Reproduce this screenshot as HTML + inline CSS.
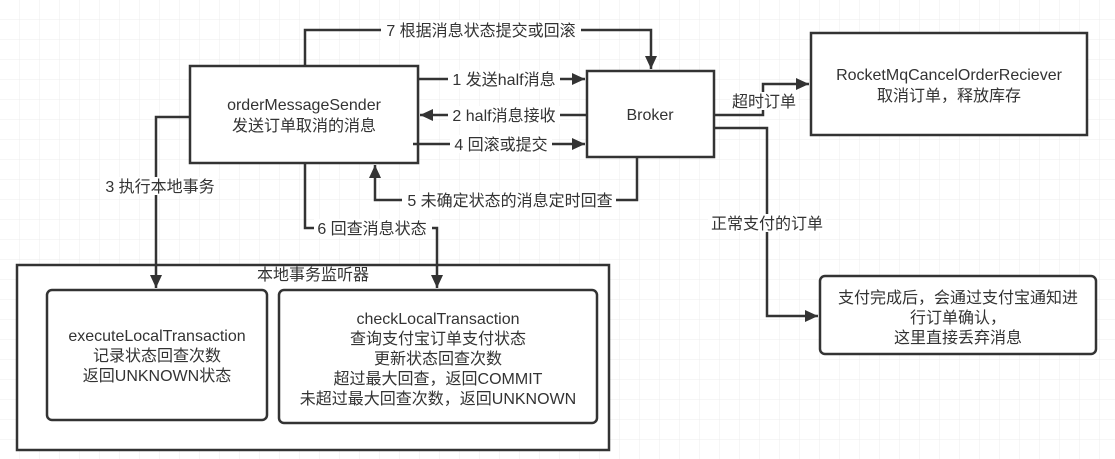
<!DOCTYPE html>
<html><head><meta charset="utf-8"><style>
html,body{margin:0;padding:0;background:#fff;}
svg{display:block;}
text{font-family:"Liberation Sans","Noto Sans CJK SC",sans-serif;font-size:16px;fill:#333;}
</style></head><body>
<svg width="1115" height="459" viewBox="0 0 1115 459" xmlns="http://www.w3.org/2000/svg">
<defs>
<pattern id="g" width="20" height="20" patternUnits="userSpaceOnUse">
<path d="M20 0V20M0 20H20" fill="none" stroke="#ececec" stroke-width="1"/>
</pattern>
<marker id="a" markerWidth="14" markerHeight="14" refX="13" refY="6" orient="auto" markerUnits="userSpaceOnUse">
<path d="M0,0 L13,6 L0,12 Z" fill="#333"/>
</marker>
</defs>
<rect width="1115" height="459" fill="url(#g)"/>
<g fill="none" stroke="#333" stroke-width="2.5">
<rect x="190" y="66" width="228" height="97" fill="#fff"/>
<rect x="587" y="71" width="127" height="86" fill="#fff"/>
<rect x="811" y="33" width="276" height="102" fill="#fff"/>
<rect x="820" y="276" width="276" height="78" rx="5" fill="#fff"/>
<rect x="17" y="265" width="592" height="185" fill="#fff"/>
<rect x="47" y="290" width="220" height="130" rx="5" fill="#fff"/>
<rect x="279" y="290" width="318" height="133" rx="5" fill="#fff"/>
<path d="M305 66V30H651V69" marker-end="url(#a)"/>
<path d="M418 79H585" marker-end="url(#a)"/>
<path d="M587 115H420" marker-end="url(#a)"/>
<path d="M413 144H585" marker-end="url(#a)"/>
<path d="M637 157V200H375V165" marker-end="url(#a)"/>
<path d="M305 163V228H437V288" marker-end="url(#a)"/>
<path d="M190 117H156V288" marker-end="url(#a)"/>
<path d="M714 115H763V84H809" marker-end="url(#a)"/>
<path d="M714 128H767V316H818" marker-end="url(#a)"/>
</g>
<g text-anchor="middle">
<rect x="381" y="20" width="200" height="20" fill="#fff"/>
<text x="481" y="36">7 根据消息状态提交或回滚</text>
<rect x="448" y="70" width="112" height="18" fill="#fff"/>
<text x="504" y="85">1 发送half消息</text>
<rect x="448" y="106" width="112" height="18" fill="#fff"/>
<text x="504" y="121">2 half消息接收</text>
<rect x="450" y="135" width="102" height="18" fill="#fff"/>
<text x="501" y="150">4 回滚或提交</text>
<rect x="402" y="191" width="214" height="18" fill="#fff"/>
<text x="510" y="206">5 未确定状态的消息定时回查</text>
<rect x="314" y="219" width="118" height="18" fill="#fff"/>
<text x="372" y="234">6 回查消息状态</text>
<rect x="100" y="177" width="118" height="18" fill="#fff"/>
<text x="160" y="192">3 执行本地事务</text>
<rect x="730" y="92" width="68" height="18" fill="#fff"/>
<text x="764" y="107">超时订单</text>
<rect x="708" y="214" width="118" height="18" fill="#fff"/>
<text x="767" y="229">正常支付的订单</text>
<text x="304" y="110">orderMessageSender</text>
<text x="304" y="131">发送订单取消的消息</text>
<text x="650" y="120">Broker</text>
<text x="949" y="80">RocketMqCancelOrderReciever</text>
<text x="949" y="101">取消订单，释放库存</text>
<text x="958" y="303">支付完成后，会通过支付宝通知进</text>
<text x="958" y="323">行订单确认，</text>
<text x="958" y="343">这里直接丢弃消息</text>
<text x="313" y="280">本地事务监听器</text>
<text x="157" y="341">executeLocalTransaction</text>
<text x="157" y="361">记录状态回查次数</text>
<text x="157" y="381">返回UNKNOWN状态</text>
<text x="438" y="324">checkLocalTransaction</text>
<text x="438" y="344">查询支付宝订单支付状态</text>
<text x="438" y="364">更新状态回查次数</text>
<text x="438" y="384">超过最大回查，返回COMMIT</text>
<text x="438" y="404">未超过最大回查次数，返回UNKNOWN</text>
</g>
</svg>
</body></html>
